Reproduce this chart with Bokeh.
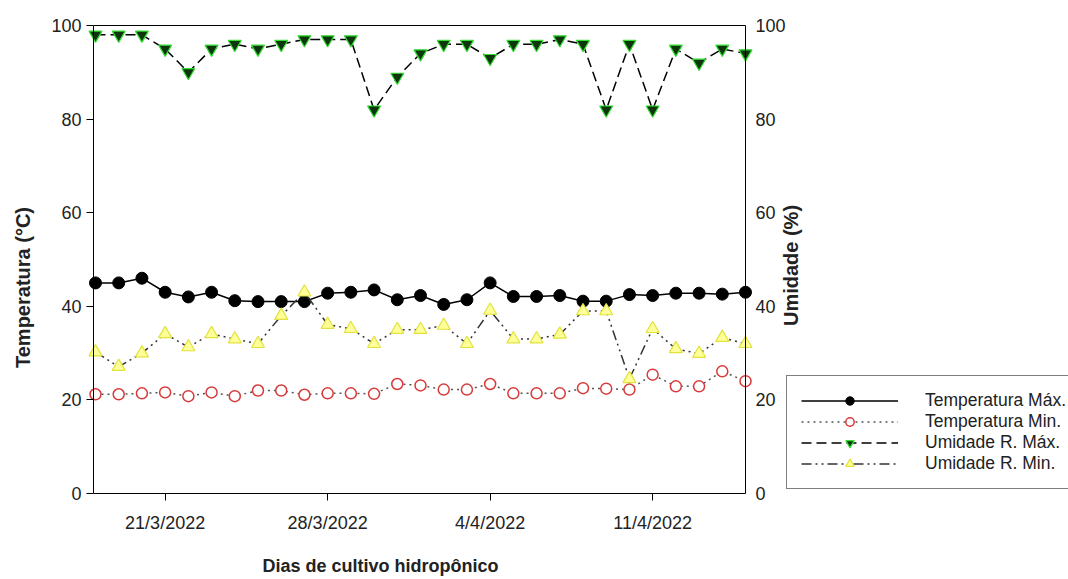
import math
import pandas as pd
from bokeh.plotting import figure
from bokeh.models import (LinearAxis, FixedTicker, Legend, LegendItem, Label, Range1d)
from bokeh.embed import file_html
from bokeh.resources import INLINE

# Daily readings of the hydroponic greenhouse
dias = pd.date_range("2022-03-18", "2022-04-15", freq="D")

temp_max = [45, 45, 46, 43, 42, 43, 41.2, 41, 41, 41,
            42.8, 43, 43.5, 41.4, 42.3, 40.4, 41.4, 45, 42.1, 42.1,
            42.3, 41.1, 41.1, 42.5, 42.3, 42.8, 42.8, 42.6, 43]
temp_min = [21.2, 21.2, 21.4, 21.6, 20.8, 21.6, 20.8, 22.0, 22.0, 21.1,
            21.4, 21.4, 21.3, 23.4, 23.1, 22.2, 22.2, 23.4, 21.4, 21.4,
            21.4, 22.5, 22.4, 22.2, 25.4, 22.9, 22.9, 26.1, 24.0]
umid_max = [98, 98, 98, 95, 90, 95, 96, 95, 96, 97,
            97, 97, 82, 89, 94, 96, 96, 93, 96, 96,
            97, 96, 82, 96, 82, 95, 92, 95, 94]
umid_min = [30.2, 27.1, 30, 34.1, 31.3, 34.1, 33, 32, 38, 43,
            36.1, 35.2, 32, 35, 35, 35.9, 32, 39.1, 33, 33,
            34, 39, 39, 24.5, 35.2, 30.9, 29.9, 33.3, 32]

tick_dates = ["2022-03-21", "2022-03-28", "2022-04-04", "2022-04-11"]
tick_labels = ["21/3/2022", "28/3/2022", "4/4/2022", "11/4/2022"]
y_ticks = [0, 20, 40, 60, 80, 100]

FONT = "Liberation Sans"
TXT = "#222222"
FS = "18px"

# Page geometry: the plotting box sits inside a full-page frame so that
# markers on the box edges and the outside legend are not clipped.
W, H = 1068, 579
BOX_L, BOX_R, BOX_T, BOX_B = 93, 745, 25, 493
FIRST_PX = 95

def ms(t):
    return pd.Timestamp(t).value / 1e6

d0, d1 = ms(dias[0]), ms(dias[-1])
ms_px = (d1 - d0) / (BOX_R - FIRST_PX)
x_lo = d0 - (FIRST_PX - BOX_L) * ms_px
x_hi = d1
y_px = 100 / (BOX_B - BOX_T)

p = figure(width=W, height=H,
           x_range=Range1d(d0 - FIRST_PX * ms_px, d1 + (W - BOX_R) * ms_px),
           y_range=Range1d(-(H - BOX_B) * y_px, 100 + BOX_T * y_px),
           x_axis_location=None, y_axis_location=None,
           output_backend="svg", toolbar_location=None,
           min_border=0, min_border_left=0, min_border_right=0,
           min_border_top=0, min_border_bottom=0)
p.xgrid.visible = False
p.ygrid.visible = False
p.outline_line_color = None
p.background_fill_color = "white"
p.border_fill_color = "white"


def style_axis(ax, tick_out):
    ax.major_tick_out = tick_out
    ax.major_tick_in = 0
    ax.minor_tick_out = 0
    ax.minor_tick_in = 0
    ax.axis_line_color = "black"
    ax.axis_line_width = 1
    ax.major_tick_line_color = "black"
    ax.major_label_text_font = FONT
    ax.major_label_text_font_size = FS
    ax.major_label_text_color = TXT


# bottom axis: weekly date ticks
tick_ms = [int(ms(d)) for d in tick_dates]
xa = LinearAxis(fixed_location=0, bounds=(x_lo, x_hi),
                ticker=FixedTicker(ticks=tick_ms),
                major_label_overrides=dict(zip(tick_ms, tick_labels)))
style_axis(xa, 7)
xa.major_label_standoff = 12
p.add_layout(xa, "below")

# top edge of the box
ta = LinearAxis(fixed_location=100, bounds=(x_lo, x_hi),
                ticker=FixedTicker(ticks=[]))
style_axis(ta, 0)
p.add_layout(ta, "above")

# left axis: temperature
ya = LinearAxis(fixed_location=x_lo, bounds=(0, 100),
                ticker=FixedTicker(ticks=y_ticks))
style_axis(ya, 7)
ya.major_label_standoff = 5
p.add_layout(ya, "left")

# right axis: relative humidity on the same 0-100 scale
ra = LinearAxis(fixed_location=x_hi, bounds=(0, 100),
                ticker=FixedTicker(ticks=y_ticks))
style_axis(ra, 0)
ra.major_label_standoff = 10
p.add_layout(ra, "right")

# series
l1 = p.line(dias, temp_max, line_color="black", line_width=1.5)
s1 = p.scatter(dias, temp_max, marker="circle", size=12,
               fill_color="black", line_color="black")

l2 = p.line(dias, temp_min, line_color="#555555", line_width=1.5, line_dash="2 4")
s2 = p.scatter(dias, temp_min, marker="circle", size=11,
               fill_color="white", line_color="#d83a3a", line_width=1.5)

l3 = p.line(dias, umid_max, line_color="black", line_width=1.5, line_dash="10 5")
s3 = p.scatter(dias, umid_max, marker="inverted_triangle", size=13,
               fill_color="#0d360d", line_color="#33dd33", line_width=1.2)

l4 = p.line(dias, umid_min, line_color="#333333", line_width=1.5,
            line_dash="10 4 2 4 2 4")
s4 = p.scatter(dias, umid_min, marker="triangle", size=13,
               fill_color="#ffff99", line_color="#e2e23c", line_width=1.2)

legend = Legend(items=[
    LegendItem(label="Temperatura Máx.", renderers=[l1, s1]),
    LegendItem(label="Temperatura Min.", renderers=[l2, s2]),
    LegendItem(label="Umidade R. Máx.", renderers=[l3, s3]),
    LegendItem(label="Umidade R. Min.", renderers=[l4, s4]),
], location=(786, H - 489))
legend.margin = 0
legend.padding = 14
legend.spacing = 0
legend.glyph_width = 97
legend.glyph_height = 21
legend.label_height = 21
legend.label_standoff = 27
legend.label_text_font = FONT
legend.label_text_font_size = "17.5px"
legend.label_text_color = TXT
legend.border_line_color = "black"
legend.border_line_width = 1
legend.background_fill_color = "white"
legend.background_fill_alpha = 1
p.add_layout(legend)

# axis titles
title_style = dict(x_units="screen", y_units="screen", text_align="center",
                   text_baseline="middle", text_font=FONT,
                   text_font_style="bold", text_color=TXT)
p.add_layout(Label(x=380, y=H - 565, text="Dias de cultivo hidropônico",
                   text_font_size="18px", **title_style))
p.add_layout(Label(x=22, y=H - 287, text="Temperatura (°C)", angle=math.pi / 2,
                   text_font_size="20px", **title_style))
p.add_layout(Label(x=790, y=H - 265, text="Umidade (%)", angle=math.pi / 2,
                   text_font_size="20px", **title_style))

open("out.html", "w").write(file_html(p, INLINE))
